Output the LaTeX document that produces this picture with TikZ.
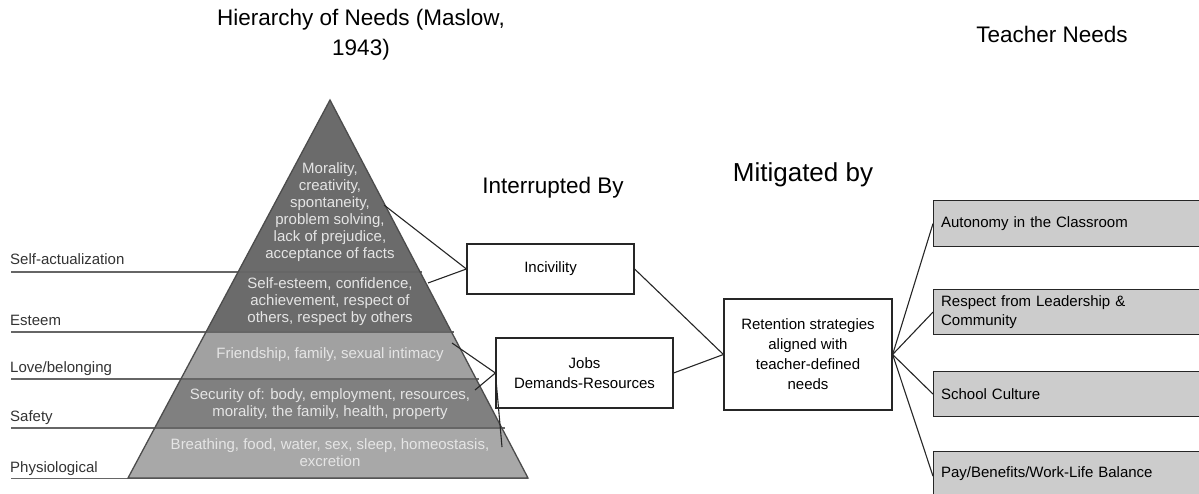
\documentclass[tikz,border=0pt]{standalone}
\usepackage{fontspec}
\setmainfont{Liberation Sans}
\begin{document}
\begin{tikzpicture}[x=1pt,y=-1pt,
  title/.style={font=\fontsize{22.5}{30}\selectfont, align=center, inner sep=0pt},
  bandtext/.style={text=black!10, font=\fontsize{15}{17}\selectfont, align=center, inner sep=0pt},
  levellabel/.style={font=\fontsize{15}{18}\selectfont, text=black!80, anchor=base west, inner sep=0pt},
  levelline/.style={draw=black!60, line width=1.6pt},
  bandline/.style={draw=black!65, line width=1.6pt},
  plainbox/.style={draw=black!85, line width=1.2pt, fill=white, font=\fontsize{15}{20}\selectfont, align=center, inner sep=0pt},
  needbox/.style={draw=black!85, line width=1.2pt, fill=black!20, font=\fontsize{15}{19}\selectfont, align=left, inner sep=0pt},
  link/.style={draw=black!85, line width=1.1pt}]
\useasboundingbox (0,0) rectangle (1199,494);

% pyramid bands
\begin{scope}
  \clip (330,100) -- (528,478) -- (128,478) -- cycle;
  \fill[black!58] (100,90) rectangle (560,332);
  \fill[black!37] (100,332) rectangle (560,379);
  \fill[black!50] (100,379) rectangle (560,428);
  \fill[black!34] (100,428) rectangle (560,480);
\end{scope}

% level lines with their labels
\draw[levelline] (11,272) -- (421.9,272);
\draw[levelline] (11,332) -- (454.0,332);
\draw[levelline] (11,379) -- (479.1,379);
\draw[levelline] (11,428) -- (505.3,428);
\draw[levelline] (11,478.5) -- (528,478.5);
\draw[draw=black!70, line width=1.3pt] (330,100) -- (528,478) -- (128,478) -- cycle;

\node[levellabel] (lsa) at (10,265) {Self-actualization};
\node[levellabel] (les) at (10,325) {Esteem};
\node[levellabel] (llb) at (10,372) {Love/belonging};
\node[levellabel] (lsf) at (10,421) {Safety};
\node[levellabel] (lph) at (10,472) {Physiological};

% band contents
\node[bandtext] (tsa) at (330,212) {Morality,\\creativity,\\spontaneity,\\problem solving,\\lack of prejudice,\\acceptance of facts};
\node[bandtext] (tes) at (330,302) {Self-esteem, confidence,\\achievement, respect of\\others, respect by others};
\node[bandtext] (tlb) at (330,355) {Friendship, family, sexual intimacy};
\node[bandtext] (tsf) at (330,404) {Security of: body, employment, resources,\\morality, the family, health, property};
\node[bandtext] (tph) at (330,453) {Breathing, food, water, sex, sleep, homeostasis,\\excretion};

% titles
\node[title] (ttl) at (361,35) {Hierarchy of Needs (Maslow,\\1943)};
\node[title] (ttn) at (1052,34) {Teacher Needs};
\node[title] (tib) at (553,188) {Interrupted By};
\node[title, font=\fontsize{26}{30}\selectfont] (tmb) at (803,175) {Mitigated by};

% middle boxes
\node[plainbox, minimum width=167pt, minimum height=50pt] (inc) at (550.5,269) {Incivility};
\node[plainbox, minimum width=177pt, minimum height=70pt] (jdr) at (584.5,373) {Jobs\\Demands-Resources};
\node[plainbox, minimum width=168pt, minimum height=111pt] (ret) at (808,354.5) {Retention strategies\\aligned with\\teacher-defined\\needs};

% teacher needs boxes (running off the right edge)
\node[needbox, anchor=north west, minimum width=280pt, minimum height=46pt, text width=265pt] (n1) at (933,200) {Autonomy in the Classroom};
\node[needbox, anchor=north west, minimum width=280pt, minimum height=45pt, text width=265pt] (n2) at (933,289) {Respect from Leadership \&\\Community};
\node[needbox, anchor=north west, minimum width=280pt, minimum height=45pt, text width=265pt] (n3) at (933,371) {School Culture};
\node[needbox, anchor=north west, minimum width=280pt, minimum height=45pt, text width=265pt] (n4) at (933,451) {Pay/Benefits/Work-Life Balance};

% connector end points inside the pyramid
\coordinate (psa) at (384,205);
\coordinate (pes) at (428,283);
\coordinate (plb) at (452,343);
\coordinate (psf) at (475,390);
\coordinate (pph) at (502,447);

\draw[link] (psa) -- (inc.west);
\draw[link] (pes) -- (inc.west);
\draw[link] (plb) -- (jdr.west);
\draw[link] (psf) -- (jdr.west);
\draw[link] (pph) -- (jdr.west);
\draw[link] (inc.east) -- (ret.west);
\draw[link] (jdr.east) -- (ret.west);
\draw[link] (ret.east) -- (n1.west);
\draw[link] (ret.east) -- (n2.west);
\draw[link] (ret.east) -- (n3.west);
\draw[link] (ret.east) -- ([yshift=-2pt]n4.west);
\end{tikzpicture}
\end{document}
